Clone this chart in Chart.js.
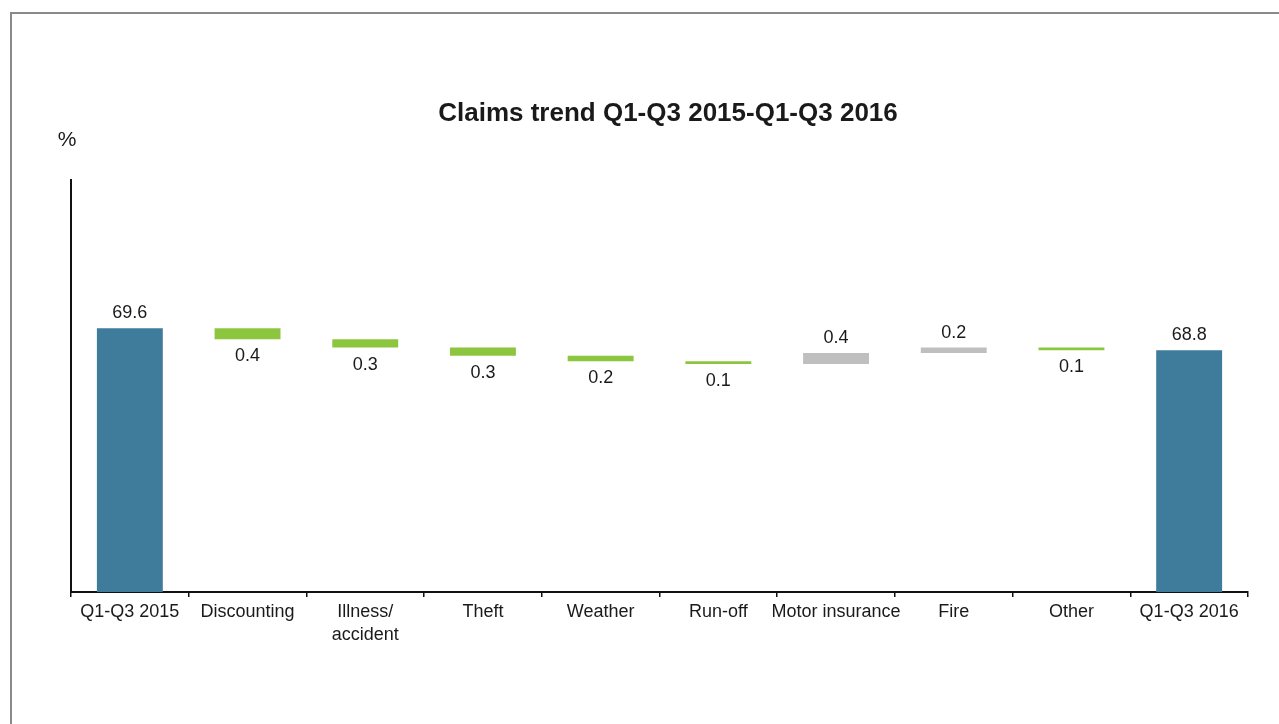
<!DOCTYPE html>
<html>
<head>
<meta charset="utf-8">
<script src="https://cdn.jsdelivr.net/npm/chart.js@4.4.0/dist/chart.umd.min.js"></script>
<style>
  html, body { margin: 0; padding: 0; background: #fff; }
  #wrap { width: 1279px; height: 724px; position: relative; }
</style>
</head>
<body>
<div id="wrap"><canvas id="myChart"></canvas></div>
<script>
// categories + values
const categories = ['Q1-Q3 2015', 'Discounting', ['Illness/', 'accident'], 'Theft', 'Weather', 'Run-off', 'Motor insurance', 'Fire', 'Other', 'Q1-Q3 2016'];
const startValue = 69.6;
const deltas = [-0.4, -0.3, -0.3, -0.2, -0.1, 0.4, 0.2, -0.1];
const endValue = 68.8;
const axisMin = 60;
const axisMax = 75;

const BLUE = '#3f7b9b';
const GREEN = '#8cc63f';
const GREY = '#bfbfbf';
const FONT = '"Liberation Sans", Arial, sans-serif';

// build floating bars for the waterfall
const bars = [[axisMin, startValue]];
const colors = [BLUE];
const labels = [startValue.toFixed(1)];
let level = startValue;
deltas.forEach(d => {
  const next = Math.round((level + d) * 10) / 10;
  bars.push([Math.min(level, next), Math.max(level, next)]);
  colors.push(d < 0 ? GREEN : GREY);
  labels.push(Math.abs(d).toFixed(1));
  level = next;
});
bars.push([axisMin, endValue]);
colors.push(BLUE);
labels.push(endValue.toFixed(1));

const ctx = document.getElementById('myChart').getContext('2d');

const decor = {
  id: 'decor',
  afterDraw(chart) {
    const c = chart.ctx;
    c.save();
    // frame
    c.strokeStyle = '#8a8a8a';
    c.lineWidth = 2;
    c.beginPath();
    c.moveTo(11, 724);
    c.lineTo(11, 13);
    c.lineTo(1279, 13);
    c.stroke();
    // title + unit
    c.fillStyle = '#1a1a1a';
    c.textAlign = 'center';
    c.textBaseline = 'middle';
    c.font = 'bold 26px ' + FONT;
    c.fillText('Claims trend Q1-Q3 2015-Q1-Q3 2016', 668, 114);
    c.font = '21px ' + FONT;
    c.fillText('%', 67, 140);
    // value labels
    c.font = '18px ' + FONT;
    const meta = chart.getDatasetMeta(0);
    meta.data.forEach((bar, i) => {
      const down = i > 0 && i < bars.length - 1 && deltas[i - 1] < 0;
      const y = down ? Math.max(bar.y, bar.base) + 17 : Math.min(bar.y, bar.base) - 15;
      c.fillText(labels[i], bar.x, y);
    });
    c.restore();
  }
};

new Chart(ctx, {
  type: 'bar',
  data: {
    labels: categories,
    datasets: [{
      data: bars,
      backgroundColor: colors,
      borderWidth: 0,
      categoryPercentage: 1,
      barPercentage: 0.56
    }]
  },
  options: {
    responsive: true,
    maintainAspectRatio: false,
    animation: false,
    layout: { padding: { top: 180, right: 31, left: 0, bottom: 0 } },
    plugins: { legend: { display: false }, tooltip: { enabled: false } },
    scales: {
      x: {
        afterFit: s => { s.height = 132; },
        grid: { display: true, drawOnChartArea: false, offset: true, tickLength: 5, color: '#111', lineWidth: 1.5 },
        border: { display: true, color: '#111', width: 2 },
        ticks: { color: '#1a1a1a', font: { size: 18, family: FONT, lineHeight: 1.25 }, padding: 4, maxRotation: 0, autoSkip: false }
      },
      y: {
        min: axisMin,
        max: axisMax,
        afterFit: s => { s.width = 71; },
        grid: { display: false },
        border: { display: true, color: '#111', width: 2 },
        ticks: { display: false }
      }
    }
  },
  plugins: [decor]
});
</script>
</body>
</html>
